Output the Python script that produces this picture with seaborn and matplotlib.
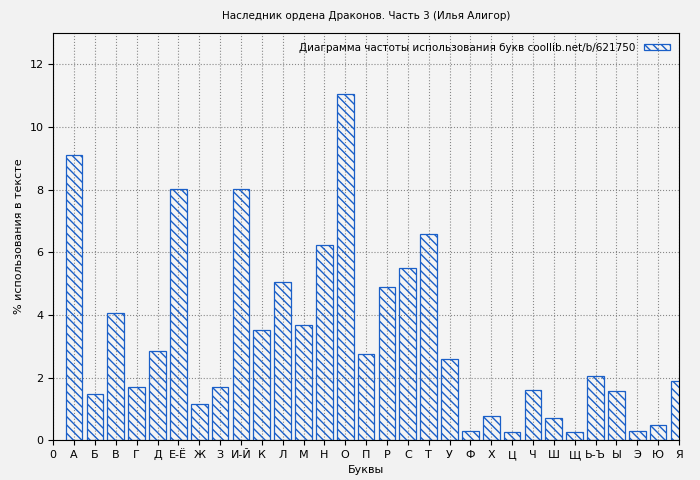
import matplotlib
matplotlib.use("Agg")
import matplotlib.pyplot as plt
import seaborn as sns
import pandas as pd

letters = ["А","Б","В","Г","Д","Е-Ё","Ж","З","И-Й","К","Л","М","Н","О","П","Р","С","Т","У","Ф","Х","Ц","Ч","Ш","Щ","Ь-Ъ","Ы","Э","Ю","Я"]
values = [9.10,1.47,4.05,1.69,2.84,8.01,1.15,1.69,8.01,3.51,5.04,3.67,6.22,11.04,2.74,4.88,5.49,6.57,2.59,0.29,0.77,0.26,1.60,0.70,0.26,2.04,1.56,0.29,0.48,1.88]
tick_labels = ["0"] + letters

df = pd.DataFrame({"x": list(range(1, len(letters)+1)), "v": values})

fig = plt.figure(figsize=(7, 4.8), dpi=100, facecolor="#f2f2f2")
ax = fig.add_axes([0.076, 0.083, 0.894, 0.848])
ax.set_facecolor("#f4f4f4")
blue = "#1a5fc8"
sns.barplot(data=df, x="x", y="v", native_scale=True, width=0.8, ax=ax,
            color="none", edgecolor=blue, linewidth=0.9, hatch="\\\\\\\\",
            label="Диаграмма частоты использования букв coollib.net/b/621750")
for p in ax.patches:
    p.set_facecolor("none"); p.set_edgecolor(blue)
plt.rcParams["hatch.color"] = blue
ax.set_xlim(0, 30)
ax.set_ylim(0, 13)
ax.set_xticks(range(0, 31))
ax.set_xticklabels(tick_labels, fontsize=8)
ax.set_yticks(range(0, 13, 2))
ax.tick_params(axis="y", labelsize=8)
ax.grid(True, color="#888888", linestyle=":", linewidth=0.8)
ax.set_axisbelow(True)
for s in ax.spines.values():
    s.set_color("#000000"); s.set_linewidth(0.8)
ax.set_xlabel("Буквы", fontsize=8)
ax.set_ylabel("% использования в тексте", fontsize=8)
ax.set_title("Наследник ордена Драконов. Часть 3 (Илья Алигор)", fontsize=7.5, pad=10)
leg = ax.legend(loc="upper right", fontsize=7.5, frameon=False, markerfirst=False,
                handlelength=2.5, handleheight=0.5)
fig.savefig("out.png", dpi=100, facecolor=fig.get_facecolor())
